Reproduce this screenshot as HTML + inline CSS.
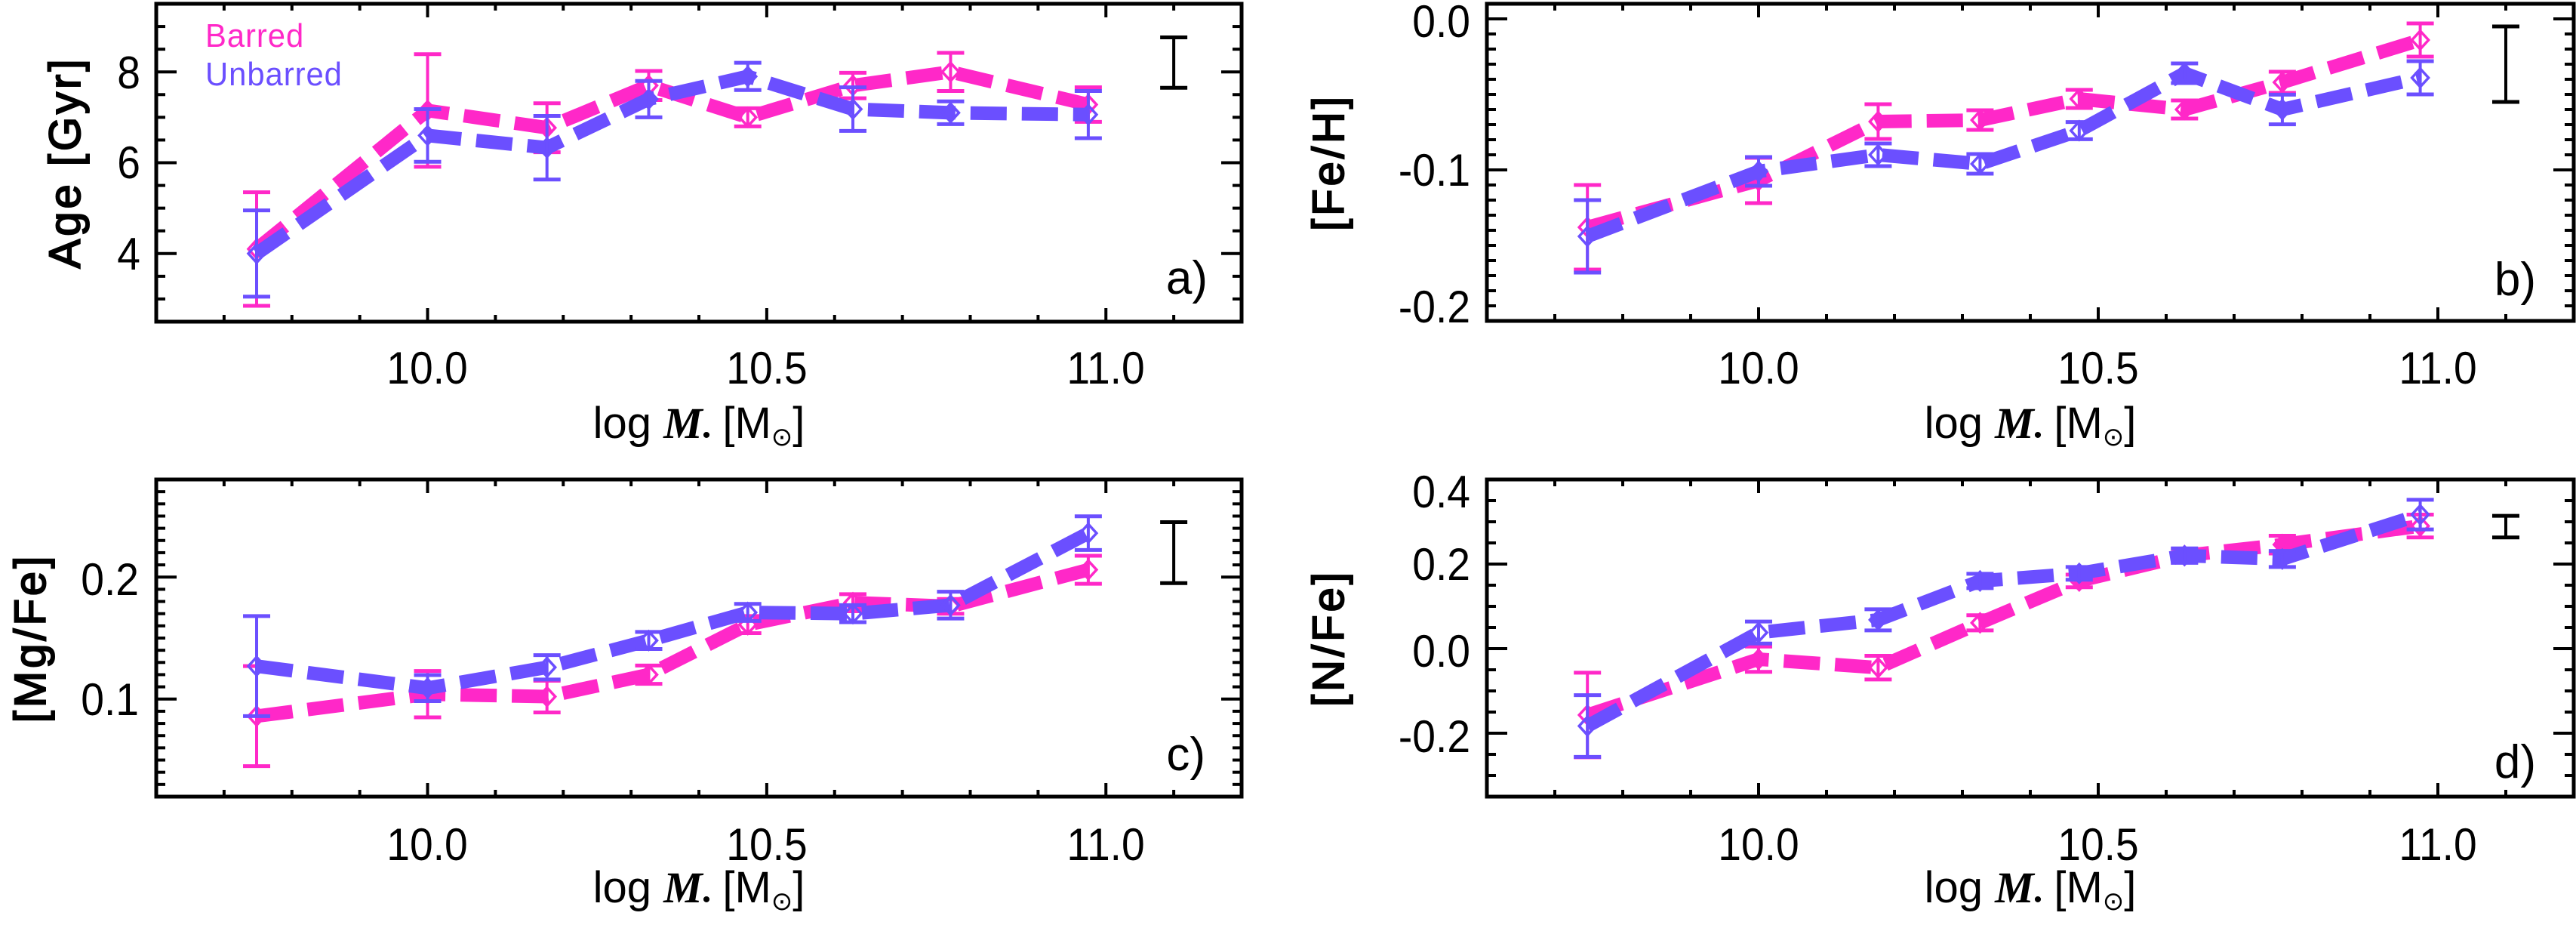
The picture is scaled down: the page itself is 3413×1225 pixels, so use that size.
<!DOCTYPE html>
<html><head><meta charset="utf-8">
<style>
html,body{margin:0;padding:0;background:#fff;}
svg{display:block;}
text{font-family:"Liberation Sans","DejaVu Sans",sans-serif;fill:#000;}
</style></head>
<body>
<svg id="s" xmlns="http://www.w3.org/2000/svg" width="3413" height="1225" viewBox="0 0 3413 1225">
<g id="g"></g>
<!-- tick labels -->
<g font-size="60" text-anchor="middle">
<text transform="translate(566,508) scale(0.92,1)">10.0</text><text transform="translate(1016,508) scale(0.92,1)">10.5</text><text transform="translate(1465,508) scale(0.92,1)">11.0</text>
<text transform="translate(2330,508) scale(0.92,1)">10.0</text><text transform="translate(2780,508) scale(0.92,1)">10.5</text><text transform="translate(3230,508) scale(0.92,1)">11.0</text>
<text transform="translate(566,1139) scale(0.92,1)">10.0</text><text transform="translate(1016,1139) scale(0.92,1)">10.5</text><text transform="translate(1465,1139) scale(0.92,1)">11.0</text>
<text transform="translate(2330,1139) scale(0.92,1)">10.0</text><text transform="translate(2780,1139) scale(0.92,1)">10.5</text><text transform="translate(3230,1139) scale(0.92,1)">11.0</text>
</g>
<g font-size="60" text-anchor="end">
<text transform="translate(186,117) scale(0.92,1)">8</text><text transform="translate(186,236) scale(0.92,1)">6</text><text transform="translate(186,357) scale(0.92,1)">4</text>
<text transform="translate(1948,49) scale(0.92,1)">0.0</text><text transform="translate(1948,246) scale(0.92,1)">-0.1</text><text transform="translate(1948,427) scale(0.92,1)">-0.2</text>
<text transform="translate(184,788) scale(0.92,1)">0.2</text><text transform="translate(184,947) scale(0.92,1)">0.1</text>
<text transform="translate(1948,672) scale(0.92,1)">0.4</text><text transform="translate(1948,768) scale(0.92,1)">0.2</text><text transform="translate(1948,883) scale(0.92,1)">0.0</text><text transform="translate(1948,996) scale(0.92,1)">-0.2</text>
</g>
<!-- y titles -->
<g font-size="58" text-anchor="middle" letter-spacing="4" stroke="#000" stroke-width="2">
<text transform="translate(106,215) rotate(-90)">Age [Gyr]</text>
<text transform="translate(1780,215) rotate(-90)">[Fe/H]</text>
<text transform="translate(60,845) rotate(-90)">[Mg/Fe]</text>
<text transform="translate(1780,845) rotate(-90)">[N/Fe]</text>
</g>
<!-- x titles -->
<g font-size="58" text-anchor="middle">
<text x="926" y="580">log <tspan font-family="Liberation Serif,serif" font-style="italic" font-weight="bold">M</tspan><tspan font-size="30" dy="6">•</tspan><tspan dy="-6"> [M</tspan><tspan font-size="34" dy="10">⊙</tspan><tspan dy="-10">]</tspan></text>
<text x="2690" y="580">log <tspan font-family="Liberation Serif,serif" font-style="italic" font-weight="bold">M</tspan><tspan font-size="30" dy="6">•</tspan><tspan dy="-6"> [M</tspan><tspan font-size="34" dy="10">⊙</tspan><tspan dy="-10">]</tspan></text>
<text x="926" y="1195">log <tspan font-family="Liberation Serif,serif" font-style="italic" font-weight="bold">M</tspan><tspan font-size="30" dy="6">•</tspan><tspan dy="-6"> [M</tspan><tspan font-size="34" dy="10">⊙</tspan><tspan dy="-10">]</tspan></text>
<text x="2690" y="1195">log <tspan font-family="Liberation Serif,serif" font-style="italic" font-weight="bold">M</tspan><tspan font-size="30" dy="6">•</tspan><tspan dy="-6"> [M</tspan><tspan font-size="34" dy="10">⊙</tspan><tspan dy="-10">]</tspan></text>
</g>
<!-- panel labels -->
<g font-size="62" text-anchor="end">
<text x="1600" y="389">a)</text><text x="3360" y="391">b)</text>
<text x="1597" y="1020">c)</text><text x="3360" y="1030">d)</text>
</g>
<!-- legend -->
<g font-size="44" letter-spacing="1">
<text transform="translate(272,62) scale(0.95,1)" style="fill:#ff28c8">Barred</text>
<text transform="translate(272,113) scale(0.95,1)" style="fill:#6b4fff">Unbarred</text>
</g>
</svg>
<script>
var NS="http://www.w3.org/2000/svg",G=document.getElementById("g");
function el(t,a){var e=document.createElementNS(NS,t);for(var k in a)e.setAttribute(k,a[k]);G.appendChild(e);return e;}
function ln(x1,y1,x2,y2,c,w){el("line",{x1:x1,y1:y1,x2:x2,y2:y2,stroke:c,"stroke-width":w});}
var X=[9.748,10.0,10.176,10.326,10.472,10.627,10.771,10.974];
var P=[
{x0:207,x1:1645,y0:5,y1:426,lo:2.5,hi:9.5,maj:2,min:0.5,
 s:[[[4.1,7.15,6.77,7.7,7.0,7.7,8.0,7.28],[1.25,1.24,0.54,0.32,0.2,0.28,0.42,0.38]],
    [[4.0,6.6,6.33,7.4,7.9,7.18,7.1,7.06],[0.95,0.58,0.7,0.4,0.3,0.48,0.25,0.52]]],rep:[8.205,0.555]},
{x0:1970,x1:3410,y0:5,y1:425,lo:-0.2,hi:0.01,maj:0.1,min:0.01,
 s:[[[-0.138,-0.107,-0.068,-0.067,-0.053,-0.060,-0.042,-0.014],[0.028,0.015,0.0115,0.0065,0.006,0.006,0.007,0.011]],
    [[-0.144,-0.101,-0.090,-0.096,-0.074,-0.036,-0.060,-0.039],[0.024,0.0095,0.0075,0.0065,0.0057,0.0065,0.0098,0.011]]],rep:[-0.030,0.025]},
{x0:207,x1:1645,y0:635,y1:1055,lo:0.02,hi:0.28,maj:0.1,min:0.01,
 s:[[[0.086,0.104,0.102,0.120,0.161,0.179,0.176,0.206],[0.041,0.019,0.013,0.0075,0.007,0.007,0.006,0.0115]],
    [[0.127,0.109,0.126,0.148,0.171,0.170,0.177,0.236],[0.041,0.0107,0.01,0.007,0.007,0.007,0.011,0.0138]]],rep:[0.220,0.025]},
{x0:1970,x1:3410,y0:635,y1:1055,lo:-0.35,hi:0.40,maj:0.2,min:0.05,
 s:[[[-0.157,-0.025,-0.045,0.061,0.16,0.22,0.246,0.29],[0.1,0.03,0.028,0.018,0.015,0.016,0.021,0.027]],
    [[-0.183,0.038,0.068,0.16,0.178,0.22,0.212,0.317],[0.073,0.026,0.025,0.017,0.015,0.017,0.019,0.035]]],rep:[0.2885,0.0255]}
];
var COL=["#ff28c8","#6b4fff"];
P.forEach(function(p){
 var fx=function(x){return p.x0+(x-9.6)/1.6*(p.x1-p.x0);};
 var fy=function(v){return p.y1-(v-p.lo)/(p.hi-p.lo)*(p.y1-p.y0);};
 for(var i=1;i<16;i++){var xv=9.6+i*0.1;var px=fx(xv);
   var major=Math.abs((xv*2)-Math.round(xv*2))<1e-6;var L=major?18:9;
   ln(px,p.y1,px,p.y1-L,"#000",4);ln(px,p.y0,px,p.y0+L,"#000",4);}
 var n=Math.round((p.hi-p.lo)/p.min);
 for(var j=0;j<=n;j++){var v=p.lo+j*p.min;var py=fy(v);
   var r=v/p.maj;var major=Math.abs(r-Math.round(r))<1e-6;var L=major?27:12;
   ln(p.x0,py,p.x0+L,py,"#000",4);ln(p.x1,py,p.x1-L,py,"#000",4);}
 el("rect",{x:p.x0,y:p.y0,width:p.x1-p.x0,height:p.y1-p.y0,fill:"none",stroke:"#000","stroke-width":5});
 p.s.forEach(function(s,k){var c=COL[k];
   var pts=X.map(function(x,i){return fx(x)+","+fy(s[0][i]);}).join(" ");
   el("polyline",{points:pts,fill:"none",stroke:c,"stroke-width":18,"stroke-dasharray":"48 20","stroke-linejoin":"miter"});
   X.forEach(function(x,i){var px=fx(x),a=fy(s[0][i]+s[1][i]),b=fy(s[0][i]-s[1][i]),cy=fy(s[0][i]);
     ln(px,a,px,b,c,4);ln(px-18,a,px+18,a,c,5);ln(px-18,b,px+18,b,c,5);
     el("polygon",{points:(px-11)+","+cy+" "+px+","+(cy-12)+" "+(px+11)+","+cy+" "+px+","+(cy+12),fill:"none",stroke:c,"stroke-width":3.5});});
 });
 var rx=fx(11.1),ra=fy(p.rep[0]+p.rep[1]),rb=fy(p.rep[0]-p.rep[1]);
 ln(rx,ra,rx,rb,"#000",4);ln(rx-18,ra,rx+18,ra,"#000",5);ln(rx-18,rb,rx+18,rb,"#000",5);
});
</script>
</body></html>
